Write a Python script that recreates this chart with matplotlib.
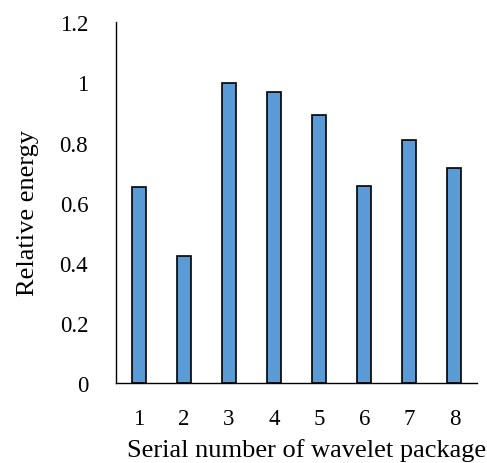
import matplotlib
matplotlib.use("Agg")
import matplotlib.pyplot as plt

categories = ["1", "2", "3", "4", "5", "6", "7", "8"]
values = [0.651, 0.422, 1.0, 0.967, 0.891, 0.655, 0.808, 0.714]
yticks = [0, 0.2, 0.4, 0.6, 0.8, 1.0, 1.2]
ytick_labels = ["0", "0.2", "0.4", "0.6", "0.8", "1", "1.2"]

plt.rcParams['font.family'] = ['Liberation Serif', 'DejaVu Serif']

fig = plt.figure(figsize=(4.87, 4.64), dpi=100)
ax = fig.add_axes([116/487, 80/464, 361/487, (384-23.4)/464])

x = list(range(len(categories)))
ax.bar(x, values, width=0.31, color="#5B9BD5", edgecolor="black", linewidth=1.2)

ax.set_xlim(-0.5, 7.5)
ax.set_ylim(0, 1.2)
ax.set_xticks(x)
ax.set_xticklabels(categories)
ax.set_yticks(yticks)
ax.set_yticklabels(ytick_labels)
ax.tick_params(axis='both', length=0, labelsize=16.5)
ax.tick_params(axis='y', pad=20)
ax.tick_params(axis='x', pad=18)
for s in ["top", "right"]:
    ax.spines[s].set_visible(False)
for s in ["left", "bottom"]:
    ax.spines[s].set_linewidth(1.0)

ax.set_xlabel("Serial number of wavelet package", fontsize=19)
ax.set_ylabel("Relative energy", fontsize=19)
ax.xaxis.set_label_coords(0.529, -0.152)
ax.yaxis.set_label_coords(-0.213, 0.473)

fig.savefig("out.png", dpi=100)
